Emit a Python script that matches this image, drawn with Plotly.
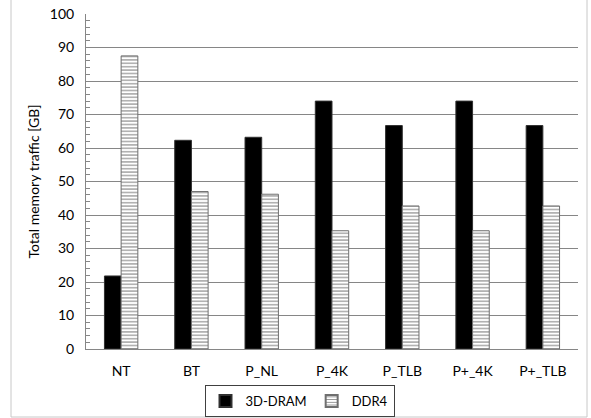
import plotly.graph_objects as go

categories = ["NT", "BT", "P_NL", "P_4K", "P_TLB", "P+_4K", "P+_TLB"]
dram_values = [21.8, 62.3, 63.2, 74.0, 66.7, 74.0, 66.7]
ddr4_values = [87.5, 47.0, 46.2, 35.3, 42.7, 35.3, 42.7]
y_range = [0, 100]
y_step = 10

W, H = 591, 418
ML, MR, MT, MB = 86, 13, 14, 69
PW, PH = W - ML - MR, H - MT - MB

def px_x(px):
    return (px - ML) / PW

def px_y(py):
    return (H - MB - py) / PH

font = "Lato, 'Open Sans', sans-serif"
grid = "#868686"

fig = go.Figure()
fig.add_trace(go.Bar(
    x=categories, y=dram_values, name="3D-DRAM",
    marker=dict(color="black", line=dict(color="#303030", width=1)),
))
fig.add_trace(go.Bar(
    x=categories, y=ddr4_values, name="DDR4",
    marker=dict(color="white", line=dict(color="#6f6f6f", width=1),
                pattern=dict(shape="-", fgcolor="#202020", bgcolor="white",
                             size=3.4, solidity=0.35, fillmode="overlay")),
))

fig.update_layout(
    width=W, height=H,
    margin=dict(l=ML, r=MR, t=MT, b=MB, autoexpand=False),
    paper_bgcolor="white", plot_bgcolor="white",
    barmode="group", bargap=0.525, bargroupgap=0,
    font=dict(family=font, size=14, color="black"),
    showlegend=True,
    legend=dict(orientation="h", x=px_x(299.5), xanchor="center",
                y=px_y(385), yanchor="top",
                bordercolor="#404040", borderwidth=1,
                font=dict(family=font, size=13, color="black"),
                itemwidth=30, tracegroupgap=0, itemsizing="constant"),
    xaxis=dict(showline=True, linecolor=grid, linewidth=1, ticks="",
               automargin=False, ticklabelstandoff=9,
               tickfont=dict(family=font, size=14, color="black"),
               showgrid=False),
    yaxis=dict(range=y_range, tickmode="linear", tick0=0, dtick=y_step,
               showline=True, automargin=False, ticklabelstandoff=8,
               linecolor=grid, linewidth=1, showgrid=True, gridcolor=grid,
               gridwidth=1, zeroline=False, ticks="",
               minor=dict(dtick=2, ticks="inside", ticklen=4, tickcolor=grid),
               tickfont=dict(family=font, size=14, color="black"),
               title=dict(text="Total memory traffic [GB]",
                          font=dict(family=font, size=14, color="black"),
                          standoff=6)),
    shapes=[dict(type="rect", xref="paper", yref="paper",
                 x0=px_x(11), x1=px_x(587), y0=px_y(417), y1=px_y(-2),
                 line=dict(color="#c8c8c8", width=1), layer="below")],
)

fig.write_html("out.html", config={"displayModeBar": False},
               post_script="document.body.style.margin='0';")
